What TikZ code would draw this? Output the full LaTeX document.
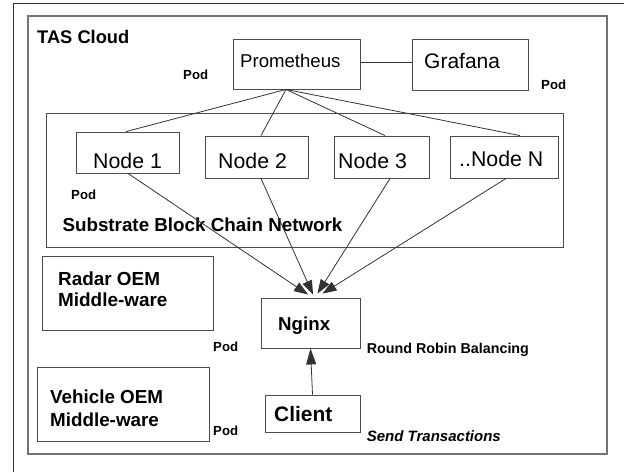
\documentclass[tikz,border=0pt]{standalone}
\usepackage{fontspec}
\setmainfont{Liberation Sans}
\usetikzlibrary{arrows.meta,calc}
\begin{document}
\begin{tikzpicture}[x=1pt,y=-1pt,
 box/.style={draw=black!70, line width=0.9pt, rectangle, inner sep=0pt},
 lbl/.style={inner sep=0pt, anchor=base west},
 podlbl/.style={lbl, font=\fontsize{13.2}{15}\selectfont\bfseries},
 conn/.style={draw=black!80, line width=0.8pt},
 arr/.style={conn, -{Triangle[length=14pt,width=10pt]}},
]
\useasboundingbox (0,0) rectangle (624,472);
% outer frame
\draw[black!80, line width=0.9pt] (13,472) -- (13,3) -- (624,3);
% boxes
\node[box, draw=black!55, line width=1.4pt, minimum width=579pt, minimum height=438pt] (cloud) at (317.5,235) {};
\node[box, minimum width=127pt, minimum height=50pt] (prom) at (296.5,64) {};
\node[box, minimum width=116pt, minimum height=51pt] (graf) at (470,64.5) {};
\node[box, minimum width=517pt, minimum height=134pt] (net) at (304.5,180) {};
\node[box, minimum width=103pt, minimum height=41pt] (n1) at (127.5,152.5) {};
\node[box, minimum width=103pt, minimum height=42pt] (n2) at (256.5,157) {};
\node[box, minimum width=95pt, minimum height=42pt] (n3) at (381.5,157) {};
\node[box, minimum width=108pt, minimum height=42pt] (nN) at (504,157) {};
\node[box, minimum width=171pt, minimum height=74pt] (radar) at (127.5,293) {};
\node[box, minimum width=99pt, minimum height=50pt] (nginx) at (310.5,323) {};
\node[box, minimum width=95pt, minimum height=37pt] (client) at (312.5,413.5) {};
\node[box, minimum width=172pt, minimum height=74pt] (vehicle) at (123,404) {};
% texts
\node[lbl, font=\fontsize{18.3}{20}\selectfont\bfseries] (tTAS) at (37,43.3) {TAS Cloud};
\node[lbl, font=\fontsize{18.6}{20}\selectfont] (tprom) at (240,67) {Prometheus};
\node[lbl, font=\fontsize{21}{24}\selectfont] (tgraf) at (424,68) {Grafana};
\node[podlbl] (pod1) at (183,79) {Pod};
\node[podlbl] (pod2) at (541,89) {Pod};
\node[podlbl] (pod3) at (71,199) {Pod};
\node[podlbl] (pod4) at (213,351.5) {Pod};
\node[podlbl] (pod5) at (213,435) {Pod};
\node[lbl, font=\fontsize{21.3}{24}\selectfont] (tn1) at (93,168) {Node 1};
\node[lbl, font=\fontsize{21.3}{24}\selectfont] (tn2) at (218,168) {Node 2};
\node[lbl, font=\fontsize{21.3}{24}\selectfont] (tn3) at (338,168) {Node 3};
\node[lbl, font=\fontsize{21.3}{24}\selectfont] (tnN) at (459,166) {..Node N};
\node[lbl, font=\fontsize{18.8}{21}\selectfont\bfseries] (tnet) at (62.3,231.7) {Substrate Block Chain Network};
\node[lbl, font=\fontsize{18.9}{21}\selectfont\bfseries] (tradar1) at (58,285) {Radar OEM};
\node[lbl, font=\fontsize{18.9}{21}\selectfont\bfseries] (tradar2) at (58,306.5) {Middle-ware};
\node[lbl, font=\fontsize{18.7}{21}\selectfont\bfseries] (tnginx) at (278,330.5) {Nginx};
\node[lbl, font=\fontsize{14.3}{16}\selectfont\bfseries] (trr) at (366.7,353) {Round Robin Balancing};
\node[lbl, font=\fontsize{18.8}{21}\selectfont\bfseries] (tveh1) at (50,403.3) {Vehicle OEM};
\node[lbl, font=\fontsize{18.8}{21}\selectfont\bfseries] (tveh2) at (50,426.5) {Middle-ware};
\node[lbl, font=\fontsize{20.9}{23}\selectfont\bfseries] (tclient) at (274,421.5) {Client};
\node[lbl, font=\fontsize{15}{17}\selectfont\bfseries\itshape] (tsend) at (366.7,441) {Send Transactions};
% connectors
\coordinate (papex) at ([xshift=-10.5pt]prom.south);
\draw[conn] ([yshift=2pt]prom.east) -- ([yshift=2.5pt]graf.west);
\draw[conn] (papex) -- ([xshift=-1.5pt]n1.north);
\draw[conn] (papex) -- ([xshift=4.5pt]n2.north);
\draw[conn] (papex) -- ([xshift=3.5pt]n3.north);
\draw[conn] (papex) -- ([xshift=16pt]nN.north);
\coordinate (t1) at ([xshift=-2.5pt,yshift=3pt]nginx.north);
\coordinate (t2) at ([xshift=2.5pt,yshift=3pt]nginx.north);
\coordinate (t3) at ([xshift=7pt,yshift=4pt]nginx.north);
\coordinate (t4) at ([xshift=12pt,yshift=4pt]nginx.north);
\draw[arr] ([xshift=0.5pt]n1.south) -- (t1);
\draw[arr] ([xshift=4.5pt]n2.south) -- (t2);
\draw[arr] ([xshift=8.5pt]n3.south) -- (t3);
\draw[arr] ([xshift=2pt]nN.south) -- (t4);
\draw[conn, -{Triangle[length=16pt,width=10pt]}] (client.north) -- (nginx.south);
\end{tikzpicture}
\end{document}
